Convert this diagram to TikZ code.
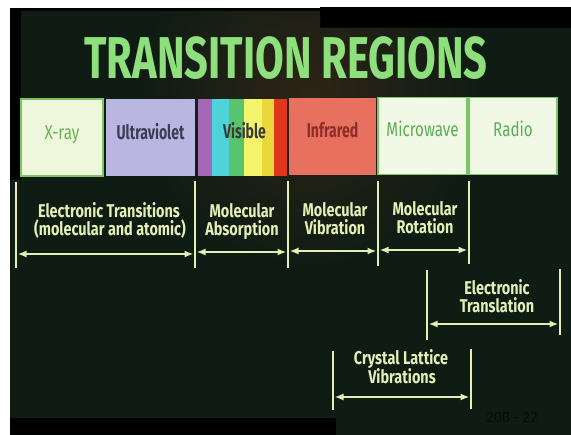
\documentclass[tikz,border=0pt]{standalone}
\usepackage{fontspec}
\usetikzlibrary{arrows.meta}

% Typefaces: condensed humanist sans for the slide, Carlito for the slide number
\newfontfamily\titlefont[FakeStretch=0.705]{Fira Sans}
\newfontfamily\capfont[FakeStretch=0.78]{Fira Sans}
\newfontfamily\bandfont[FakeStretch=0.76]{Fira Sans}
\newfontfamily\bandboldfont[FakeStretch=0.70]{Fira Sans}
\newfontfamily\numfont{Carlito}

% Palette
\definecolor{slidebg}{HTML}{0F1C14}
\definecolor{glowbrown}{HTML}{2E2416}
\definecolor{titlegreen}{HTML}{8DE07B}
\definecolor{chalk}{HTML}{E4EFB6}
\definecolor{bandedge}{HTML}{7CC466}
\definecolor{xrayfill}{HTML}{EEF7DC}
\definecolor{xraytext}{HTML}{6CB35A}
\definecolor{uvfill}{HTML}{BAB6E2}
\definecolor{uvtext}{HTML}{3C3C55}
\definecolor{irfill}{HTML}{E7705F}
\definecolor{irtext}{HTML}{8B2E2A}
\definecolor{mwfill}{HTML}{F1F9E6}
\definecolor{mwtext}{HTML}{5DAE55}
\definecolor{vistext}{HTML}{3A3A3A}
\definecolor{vpurple}{HTML}{A468B4}
\definecolor{vcyan}{HTML}{4FD3DA}
\definecolor{vgreen}{HTML}{57C46E}
\definecolor{vyellow}{HTML}{F4F36C}
\definecolor{vgold}{HTML}{E9D73C}
\definecolor{vred}{HTML}{E0361E}
\definecolor{numtext}{HTML}{080D09}

\begin{document}
\begin{tikzpicture}[x=1pt,y=-1pt,
  chalkline/.style={draw=chalk, line width=1.8pt},
  span/.style={chalkline, shorten <=1.5pt, shorten >=1.5pt,
    {Latex[length=9pt,width=7pt]}-{Latex[length=9pt,width=7pt]}},
  band/.style={inner sep=0pt, minimum height=77pt},
  edged/.style={draw=bandedge, line width=1.2pt},
  bandlbl/.style={font=\bandfont\fontsize{20}{22}\selectfont, anchor=base, inner sep=0pt},
  bandbold/.style={font=\bandboldfont\bfseries\fontsize{20}{22}\selectfont, anchor=base, inner sep=0pt},
  caption/.style={font=\capfont\bfseries\fontsize{18.5}{19}\selectfont, text=chalk,
    anchor=base, inner sep=0pt},
]
\useasboundingbox (0,0) rectangle (571,435);

% Mount and slide frame
\fill[white] (0,0) rectangle (571,435);
\fill[black] (10,8) rectangle (571,435);
\fill[black] (320,7) rectangle (571,28);
\begin{scope}
  \path[clip] (21,11) -- (320,11) -- (320,28) -- (571,28) -- (571,435) -- (336,435)
    -- (336,418) -- (10,418) -- (10,180) -- (21,180) -- cycle;
  \fill[slidebg] (0,0) rectangle (571,435);
  \shade[inner color=glowbrown, outer color=slidebg] (310,95) circle (170);
\end{scope}

% Title
\node[font=\titlefont\bfseries\fontsize{59}{60}\selectfont, text=titlegreen,
  anchor=base, inner sep=0pt] (title) at (286,79) {TRANSITION REGIONS};

% Spectrum bands
\node[band, edged, fill=xrayfill, minimum width=82pt] (xray) at (62,137.5) {};
\node[band, fill=uvfill, minimum width=89pt] (uv) at (150.5,137.5) {};
\fill[vpurple] (198,99) rectangle (212,176);
\fill[vcyan]   (212,99) rectangle (229,176);
\fill[vgreen]  (229,99) rectangle (244,176);
\fill[vyellow] (244,99) rectangle (262,176);
\fill[vgold]   (262,99) rectangle (274,176);
\fill[vred]    (274,99) rectangle (287,176);
\node[band, minimum width=89pt] (vis) at (242.5,137.5) {};
\node[band, fill=irfill, minimum width=87pt] (ir) at (332.5,136.5) {};
\node[band, edged, fill=mwfill, minimum width=89pt] (mw) at (422.5,136) {};
\node[band, edged, fill=mwfill, minimum width=88pt] (radio) at (513,136) {};

\node[bandlbl, text=xraytext] (xraylbl) at (xray |- 0,140) {X-ray};
\node[bandbold, text=uvtext] (uvlbl) at (uv |- 0,140) {Ultraviolet};
\node[bandbold, text=vistext] (vislbl) at (244.5,139) {Visible};
\node[bandbold, text=irtext] (irlbl) at (ir |- 0,138) {Infrared};
\node[bandlbl, text=mwtext] (mwlbl) at (mw |- 0,137) {Microwave};
\node[bandlbl, text=mwtext] (radiolbl) at (radio |- 0,137) {Radio};

% Region boundaries
\coordinate (t0a) at (16,182);  \coordinate (t0b) at (16,268);
\coordinate (t1a) at (195,181); \coordinate (t1b) at (195,268);
\coordinate (t2a) at (288,181); \coordinate (t2b) at (288,268);
\coordinate (t3a) at (378,181); \coordinate (t3b) at (378,266);
\coordinate (t4a) at (469,181); \coordinate (t4b) at (469,264);
\coordinate (t5a) at (427,270); \coordinate (t5b) at (427,340);
\coordinate (t6a) at (560,269); \coordinate (t6b) at (560,335);
\coordinate (t7a) at (333,351); \coordinate (t7b) at (333,410);
\coordinate (t8a) at (471,349); \coordinate (t8b) at (471,409);
\foreach \t in {t0,t1,t2,t3,t4,t5,t6,t7,t8}
  \draw[chalkline] (\t a) -- (\t b);

% Spans
\draw[span] (t0a |- 0,254) -- (t1a |- 0,254);
\draw[span] (t1a |- 0,252) -- (t2a |- 0,252);
\draw[span] (t2a |- 0,251) -- (t3a |- 0,251);
\draw[span] (t3a |- 0,250) -- (t4a |- 0,250);
\draw[span] (t5a |- 0,324) -- (t6a |- 0,324);
\draw[span] (t7a |- 0,397) -- (t8a |- 0,397);

% Captions
\node[caption] (et1) at (109,218) {Electronic Transitions};
\node[caption] (et2) at (110,236) {(molecular and atomic)};
\node[caption] (ma1) at (242,218) {Molecular};
\node[caption] (ma2) at (242,236) {Absorption};
\node[caption] (mv1) at (335,217) {Molecular};
\node[caption] (mv2) at (335,235) {Vibration};
\node[caption] (mr1) at (425,216) {Molecular};
\node[caption] (mr2) at (425,234) {Rotation};
\node[caption] (tr1) at (497,295) {Electronic};
\node[caption] (tr2) at (497,313) {Translation};
\node[caption] (cl1) at (401,365) {Crystal Lattice};
\node[caption] (cl2) at (402,384) {Vibrations};

% Slide number
\node[font=\numfont\fontsize{15.5}{16}\selectfont, text=numtext, anchor=base west,
  inner sep=0pt] (slideno) at (486,423) {20B - 22};
\end{tikzpicture}
\end{document}
